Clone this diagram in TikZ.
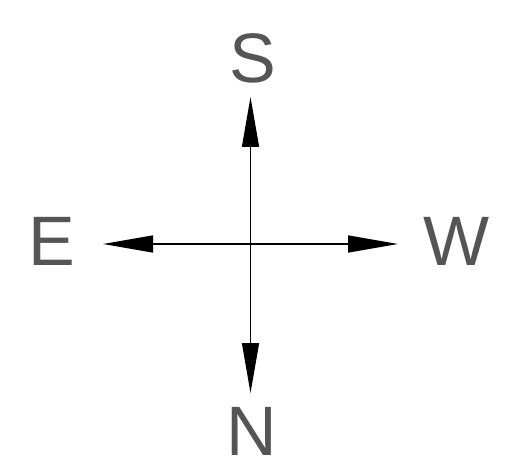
\documentclass[tikz,border=0pt]{standalone}
\usepackage{fontspec}
\setmainfont{Liberation Sans}
\usetikzlibrary{arrows.meta}
\definecolor{lettergray}{HTML}{555555}
\begin{document}
\begin{tikzpicture}[x=1pt,y=-1pt,
  dirlabel/.style={inner sep=0pt, text=lettergray, font=\fontsize{70}{70}\selectfont},
  axis/.style={line width=1.4pt, -{Triangle[length=50pt,width=17pt]}}]
\useasboundingbox (0,0) rectangle (508,473);
\coordinate (c) at (250.5,244);
\coordinate (s) at (250.5,97);
\coordinate (n) at (250.5,393);
\coordinate (e) at (103,244);
\coordinate (w) at (398,244);
\draw[axis] (c) -- (s);
\draw[axis] (c) -- (n);
\draw[axis] (c) -- (e);
\draw[axis] (c) -- (w);
\node[dirlabel] (S) at (252.5,58) {S};
\node[dirlabel] (E) at (52,241) {E};
\node[dirlabel] (W) at (456.5,241) {W};
\node[dirlabel] (N) at (252,431) {N};
\end{tikzpicture}
\end{document}
